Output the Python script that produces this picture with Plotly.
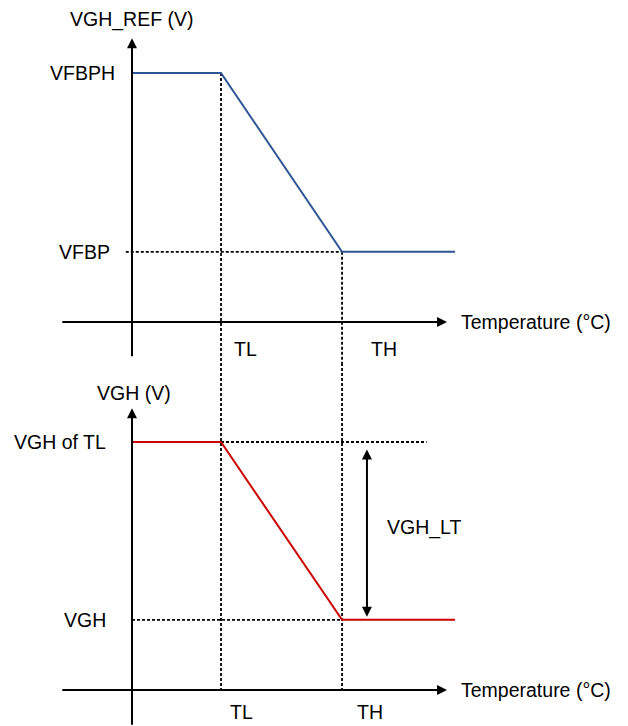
import plotly.graph_objects as go
from plotly.subplots import make_subplots

# --- diagram values (temperature in units of TL, voltage in arbitrary units) ---
temp_knots = [0.0, 1.0, 2.36, 3.63]          # origin, TL, TH, end of curve
vgh_ref = [5.0, 5.0, 1.41, 1.41]             # VFBPH ... VFBP
vgh = [4.98, 4.98, 1.41, 1.41]               # VGH of TL ... VGH
TL, TH = temp_knots[1], temp_knots[2]

x_axis_span = [-0.80, 3.54]                  # temperature axis (tail, arrow tip)
top_y_axis_span = [-0.72, 5.70]
bot_y_axis_span = [-0.73, 5.66]
vfbp_guide_x = [-0.07, TH]
vgh_guide_x = [0.0, TH]
vgh_tl_guide_x = [TL, 3.31]
vgh_lt_x = 2.64
vgh_lt_span = [1.47, 4.86]

top_level_labels = ["VFBPH", "VFBP"]
bot_level_labels = ["VGH of TL", "VGH"]
temp_labels = ["TL", "TH"]

# --- canvas geometry (page body has an 8px margin, so the figure is shifted) ---
PAGE_W, PAGE_H, BODY_MARGIN = 628, 726, 8
W, H = PAGE_W - BODY_MARGIN, PAGE_H - BODY_MARGIN
X0_PX, PX_PER_T = 132 - BODY_MARGIN, 89
TOP_ORIGIN_PX = 322 - BODY_MARGIN
BOT_ORIGIN_PX = 690 - BODY_MARGIN
SPLIT_PX = 363 - BODY_MARGIN
PX_PER_V = 49.8

x_range = [-X0_PX / PX_PER_T, (W - X0_PX) / PX_PER_T]
top_y_range = [-(SPLIT_PX - TOP_ORIGIN_PX) / PX_PER_V, TOP_ORIGIN_PX / PX_PER_V]
bot_y_range = [-(H - BOT_ORIGIN_PX) / PX_PER_V, (BOT_ORIGIN_PX - SPLIT_PX) / PX_PER_V]
split = 1 - SPLIT_PX / H

FONT = dict(family="Liberation Sans, Arial, sans-serif", size=19.5, color="#000000")
DASH = "3px,2px"
BLUE = "#2F5597"
RED = "#CC0000"

fig = make_subplots(rows=2, cols=1, vertical_spacing=0)


def guide(x, y, row):
    fig.add_trace(go.Scatter(x=x, y=y, mode="lines", hoverinfo="skip",
                             line=dict(color="black", width=1.8, dash=DASH)), row=row, col=1)


# guides: top panel
guide(vfbp_guide_x, [vgh_ref[2]] * 2, 1)
guide([TL, TL], [vgh_ref[1], top_y_range[0]], 1)
guide([TH, TH], [vgh_ref[2], top_y_range[0]], 1)
# guides: bottom panel (verticals continue from top panel)
guide(vgh_guide_x, [vgh[2]] * 2, 2)
guide(vgh_tl_guide_x, [vgh[1]] * 2, 2)
guide([TL, TL], [bot_y_range[1], 0], 2)
guide([TH, TH], [bot_y_range[1], 0], 2)

fig.add_trace(go.Scatter(x=temp_knots, y=vgh_ref, mode="lines", name="VGH_REF",
                         line=dict(color=BLUE, width=2)), row=1, col=1)
fig.add_trace(go.Scatter(x=temp_knots, y=vgh, mode="lines", name="VGH",
                         line=dict(color=RED, width=2)), row=2, col=1)

anns = []


def arrow(xref, yref, tip, tail, both=False):
    anns.append(dict(xref=xref, yref=yref, axref=xref, ayref=yref,
                     x=tip[0], y=tip[1], ax=tail[0], ay=tail[1], text="",
                     showarrow=True, arrowhead=2, arrowsize=1, arrowwidth=2,
                     arrowcolor="black", standoff=0, startstandoff=0,
                     startarrowhead=2, startarrowsize=1,
                     arrowside="end+start" if both else "end"))


def label(xref, yref, x, y, text, xanchor="center", xshift=0, yshift=0):
    anns.append(dict(xref=xref, yref=yref, x=x, y=y, text=text, showarrow=False,
                     xanchor=xanchor, yanchor="middle", xshift=xshift, yshift=yshift,
                     font=FONT))


for xr, yr, ys in (("x", "y", top_y_axis_span), ("x2", "y2", bot_y_axis_span)):
    arrow(xr, yr, (x_axis_span[1], 0), (x_axis_span[0], 0))
    arrow(xr, yr, (0, ys[1]), (0, ys[0]))
    label(xr, yr, x_axis_span[1], 0, "Temperature (°C)", xanchor="left", xshift=12)

label("x", "y", 0, top_y_axis_span[1], "VGH_REF (V)", yshift=19)
label("x2", "y2", 0, bot_y_axis_span[1], "VGH (V)", xshift=2, yshift=15)

label("x", "y", 0, vgh_ref[0], top_level_labels[0], xanchor="right", xshift=-15)
label("x", "y", 0, vgh_ref[2], top_level_labels[1], xanchor="right", xshift=-20)
label("x2", "y2", 0, vgh[0], bot_level_labels[0], xanchor="right", xshift=-24)
label("x2", "y2", 0, vgh[2], bot_level_labels[1], xanchor="right", xshift=-24)

label("x", "y", TL, 0, temp_labels[0], xshift=24, yshift=-27)
label("x", "y", TH, 0, temp_labels[1], xshift=42, yshift=-27)
label("x2", "y2", TL, 0, temp_labels[0], xshift=20, yshift=-22)
label("x2", "y2", TH, 0, temp_labels[1], xshift=28, yshift=-22)

arrow("x2", "y2", (vgh_lt_x, vgh_lt_span[0]), (vgh_lt_x, vgh_lt_span[1]), both=True)
label("x2", "y2", vgh_lt_x, sum(vgh_lt_span) / 2, "VGH_LT", xanchor="left", xshift=18, yshift=5)

fig.update_layout(
    width=W, height=H,
    margin=dict(l=0, r=0, t=0, b=0),
    plot_bgcolor="white", paper_bgcolor="white",
    showlegend=False,
    annotations=anns,
)
fig.update_xaxes(range=x_range, visible=False, fixedrange=True)
fig.update_yaxes(range=top_y_range, domain=[split, 1], visible=False, fixedrange=True, row=1, col=1)
fig.update_yaxes(range=bot_y_range, domain=[0, split], visible=False, fixedrange=True, row=2, col=1)

fig.write_html("out.html")
